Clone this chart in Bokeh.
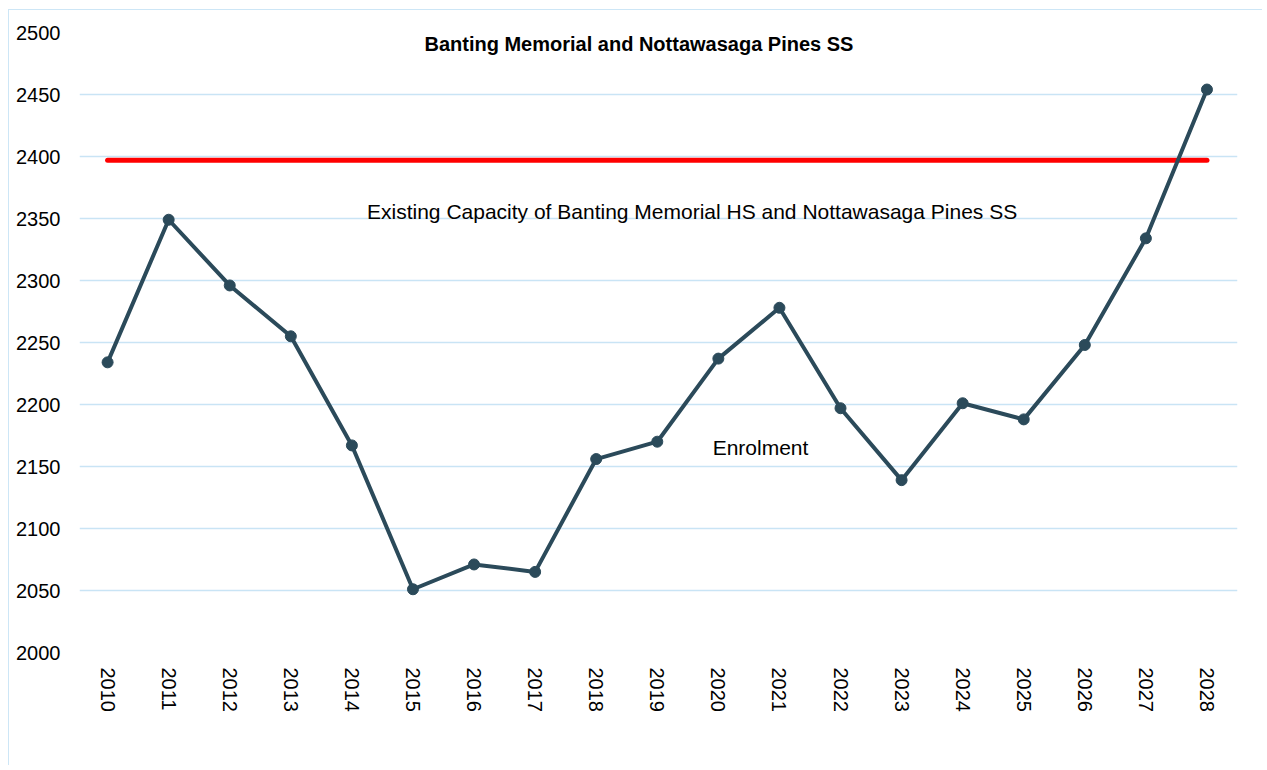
from bokeh.plotting import figure
from bokeh.models import Range1d, FixedTicker, Label, ColumnDataSource
from bokeh.embed import file_html
from bokeh.resources import INLINE
import math

years = [2010, 2011, 2012, 2013, 2014, 2015, 2016, 2017, 2018, 2019,
         2020, 2021, 2022, 2023, 2024, 2025, 2026, 2027, 2028]
enrolment = [2234, 2349, 2296, 2255, 2167, 2051, 2071, 2065, 2156, 2170,
             2237, 2278, 2197, 2139, 2201, 2188, 2248, 2334, 2454]
capacity = 2397
y_ticks = [2000, 2050, 2100, 2150, 2200, 2250, 2300, 2350, 2400, 2450, 2500]

title_text = "Banting Memorial and Nottawasaga Pines SS"
capacity_text = "Existing Capacity of Banting Memorial HS and Nottawasaga Pines SS"
enrol_text = "Enrolment"

FONT = "Liberation Sans"
W, H = 1254, 756

p = figure(width=W, height=H, output_backend="svg", toolbar_location=None,
           x_range=Range1d(years[0] - 0.46, years[-1] + 0.5),
           y_range=Range1d(y_ticks[0], y_ticks[-1]),
           min_border_left=70, min_border_right=26,
           min_border_top=22, min_border_bottom=114)
p.styles = {"margin-left": "9px", "margin-top": "10px",
            "box-shadow": "-1px -1px 0 0 #cde6f6"}
p.outline_line_color = None
p.background_fill_color = "white"
p.border_fill_color = "white"

p.xaxis.ticker = FixedTicker(ticks=years)
p.yaxis.ticker = FixedTicker(ticks=y_ticks)
p.xaxis.major_label_orientation = -math.pi / 2
for ax in (p.xaxis, p.yaxis):
    ax.axis_line_color = None
    ax.major_tick_line_color = None
    ax.minor_tick_line_color = None
    ax.major_label_text_font = FONT
    ax.major_label_text_font_size = "20px"
    ax.major_label_text_color = "black"
p.yaxis.major_label_standoff = 13
p.xaxis.major_label_standoff = 9

p.xgrid.grid_line_color = None
p.ygrid.grid_line_color = "#c9e4f5"
p.ygrid.grid_line_width = 1.5

src = ColumnDataSource(dict(x=years, y=enrolment))
p.line([years[0], years[-1]], [capacity, capacity], line_color="#ff0000",
       line_width=5, line_cap="round")
p.line("x", "y", source=src, line_color="#2b4a5a", line_width=4, line_join="round")
p.scatter("x", "y", source=src, size=11, fill_color="#2b4a5a", line_color="#2b4a5a")

p.add_layout(Label(x=2019.57, y=2355.6, text=capacity_text, text_align="center",
                   text_baseline="middle", text_font=FONT,
                   text_font_size="21px", text_color="black"))
p.add_layout(Label(x=2020.69, y=2165.3, text=enrol_text, text_align="center",
                   text_baseline="middle", text_font=FONT,
                   text_font_size="21px", text_color="black"))
p.add_layout(Label(x=2018.7, y=2491, text=title_text, text_align="center",
                   text_baseline="middle", text_font=FONT, text_font_size="20px",
                   text_font_style="bold", text_color="black"))

open("out.html", "w").write(file_html(p, INLINE))
